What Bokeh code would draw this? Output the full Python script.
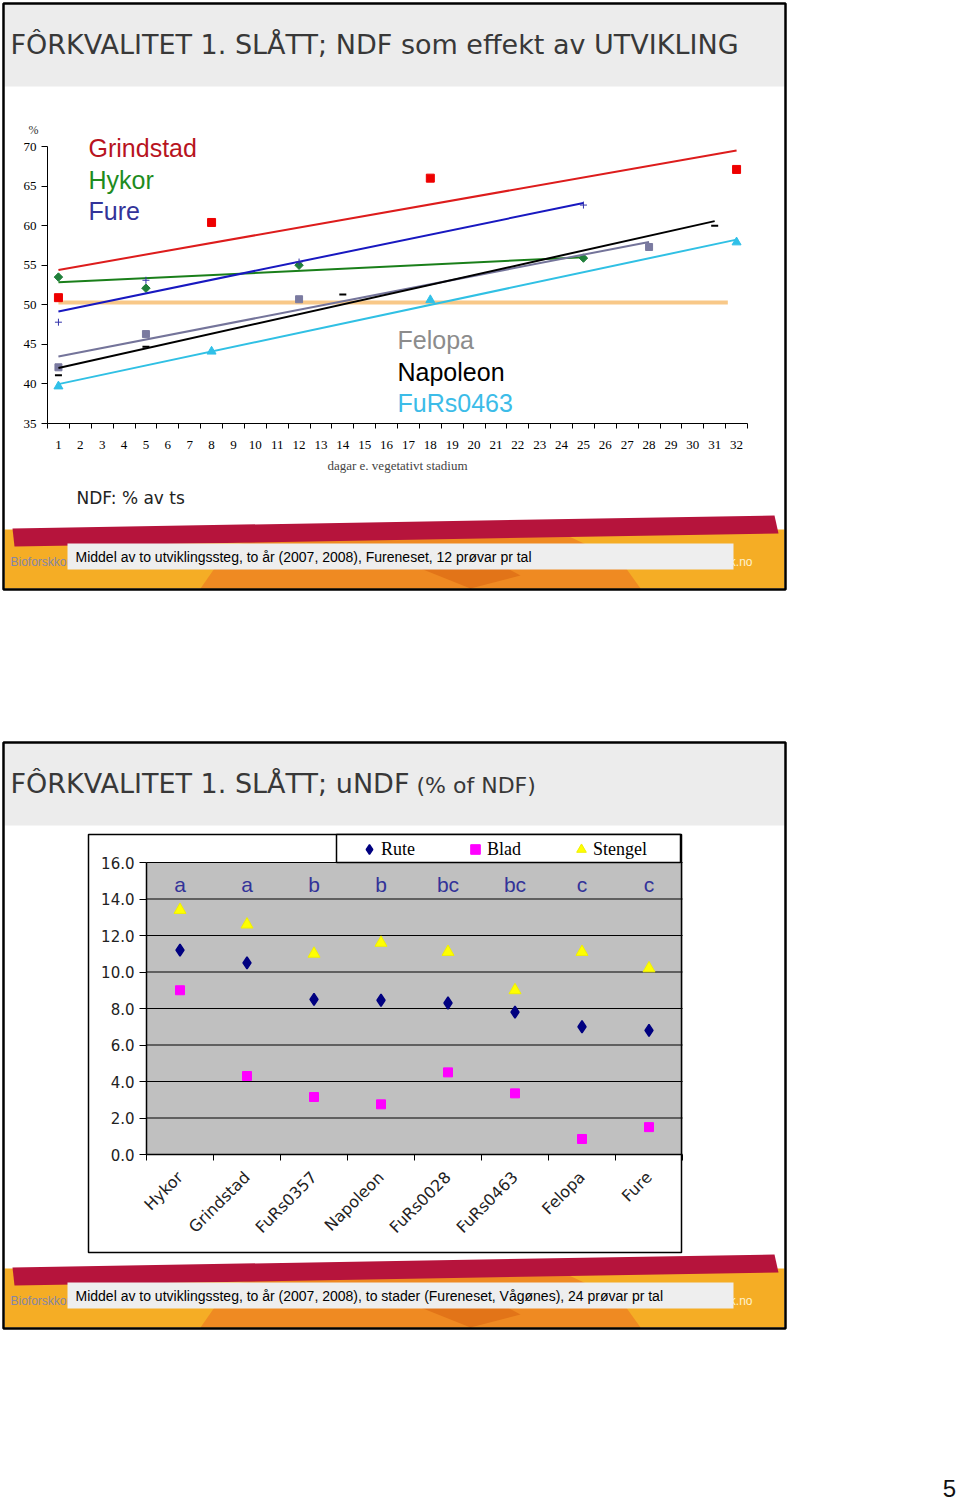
import math
import numpy as np
from bokeh.plotting import figure
from bokeh.models import (FixedTicker, Legend, LegendItem, LinearAxis,
                          NumeralTickFormatter, Range1d)
from bokeh.core.properties import value
from bokeh.embed import file_html
from bokeh.resources import INLINE

# ---------------- data: chart 1 (NDF vs days) ----------------
grindstad_day = [1, 8, 18, 32]
grindstad_ndf = [50.9, 60.4, 66.0, 67.1]
hykor_day = [1, 5, 12, 25]
hykor_ndf = [53.5, 52.1, 55.0, 55.9]
fure_day = [1, 5, 12, 25]
fure_ndf = [47.8, 53.1, 55.4, 62.6]
felopa_day = [1, 5, 12, 28]
felopa_ndf = [42.1, 46.3, 50.7, 57.3]
napoleon_day = [1, 5, 14, 31]
napoleon_ndf = [41.1, 44.7, 51.3, 60.0]
furs0463_day = [1, 8, 18, 32]
furs0463_ndf = [39.7, 44.1, 50.6, 57.9]
ref_day = [1, 31.6]
ref_ndf = [50.3, 50.3]
day_ticks = list(range(1, 33))
y1_ticks = [35, 40, 45, 50, 55, 60, 65, 70]

# ---------------- data: chart 2 (uNDF) ----------------
sorts = ["Hykor", "Grindstad", "FuRs0357", "Napoleon", "FuRs0028", "FuRs0463", "Felopa", "Fure"]
rute = [11.2, 10.5, 8.5, 8.45, 8.3, 7.8, 7.0, 6.8]
blad = [9.0, 4.3, 3.15, 2.75, 4.5, 3.35, 0.85, 1.5]
stengel = [13.4, 12.6, 11.0, 11.6, 11.1, 9.0, 11.1, 10.2]
letters = ["a", "a", "b", "b", "bc", "bc", "c", "c"]
letter_y = 14.8
y2_ticks = [0, 2, 4, 6, 8, 10, 12, 14, 16]

SANS = "Liberation Sans"
SERIF = "Liberation Serif"
TFONT = "DejaVu Sans"
W, H = 960, 1503


def lin_range(v0, px0, v1, px1, total, flip=False):
    """Range whose ends fall on the canvas edges so that v0 lands on px0, v1 on px1."""
    k = (px1 - px0) / (v1 - v0)
    a = v0 - px0 / k
    b = v0 + (total - px0) / k
    return Range1d(b, a) if flip else Range1d(a, b)


p = figure(width=W, height=H, x_range=Range1d(0, W), y_range=Range1d(H, 0),
           x_axis_location=None, y_axis_location=None, min_border=0,
           output_backend="svg", toolbar_location=None, outline_line_color=None,
           background_fill_color="white", border_fill_color="white")
p.grid.visible = False
p.extra_x_ranges = {"c1x": lin_range(0.5, 47, 32.5, 747, W),
                    "c2x": lin_range(-0.5, 146, 7.5, 682, W)}
p.extra_y_ranges = {"c1y": lin_range(70, 146, 35, 423, H, flip=True),
                    "c2y": lin_range(16, 862, 0, 1154, H, flip=True)}
C1 = dict(x_range_name="c1x", y_range_name="c1y")
C2 = dict(x_range_name="c2x", y_range_name="c2y")


def txt(x, y, s, size, color, font=SANS, align="left", baseline="middle", **kw):
    p.text(x=[x], y=[y], text=[s], text_font=value(font), text_font_size=f"{size}px",
           text_color=color, text_align=align, text_baseline=baseline, **kw)


def rect(l, t, r, b, fill=None, line=None, lw=1.0):
    p.quad(left=[l], right=[r], top=[t], bottom=[b],
           fill_color=fill if fill else "white", fill_alpha=1 if fill else 0,
           line_color=line if line else "black", line_alpha=1 if line else 0, line_width=lw)


def slide(dy, titles, foot):
    rect(4, 4 + dy, 784, 86 + dy, fill="#ececec")
    for (x, y, s, size) in titles:
        txt(x, y + dy, s, size, "#383838", font=TFONT)
    rect(4, 529 + dy, 784, 588 + dy, fill="#f5ad25")
    p.patch([230, 330, 470, 560, 620, 640, 200], [v + dy for v in [545, 526, 522, 532, 560, 588, 588]],
            fill_color="#ef8a22", line_alpha=0)
    p.patch([400, 470, 520, 470], [v + dy for v in [560, 548, 575, 588]],
            fill_color="#e27418", line_alpha=0)
    p.patch([12, 774, 778, 14], [v + dy for v in [528, 515, 533, 546]],
            fill_color="#b6143c", line_alpha=0)
    txt(10, 561 + dy, "Bioforskkonferansen", 12, "#8486a8")
    txt(752, 561 + dy, "www.bioforsk.no", 12, "#fff2cc", align="right")
    rect(67, 543 + dy, 733, 569 + dy, fill="#eeeeee")
    txt(75, 556 + dy, foot, 14, "#000000")


# ====================== slide 1 ======================
slide(0, [(10, 44, "FÔRKVALITET 1. SLÅTT; NDF som effekt av UTVIKLING", 27)],
      "Middel av to utviklingssteg, to år (2007, 2008), Fureneset, 12 prøvar pr tal")
txt(33, 129, "%", 12, "#333333", font=SERIF, align="center")
txt(76, 497, "NDF: % av ts", 17, "#222222", font=TFONT)

p.line(ref_day, ref_ndf, line_color="#f8c888", line_width=4, **C1)
series = [
    (grindstad_day, grindstad_ndf, "#dd1c1c", "square", 8, 0, "#ee0000"),
    (hykor_day, hykor_ndf, "#1a7f1a", "square", 6, math.pi / 4, "#1f7f3a"),
    (fure_day, fure_ndf, "#1818c0", "cross", 7, 0, "#3333aa"),
    (felopa_day, felopa_ndf, "#74749a", "square", 7, 0, "#7a7aa0"),
    (napoleon_day, napoleon_ndf, "#000000", "dash", 7, 0, "#000000"),
    (furs0463_day, furs0463_ndf, "#30c0e4", "triangle", 9, 0, "#30c0e8"),
]
for xs, ys, lc, mk, ms, ang, mc in series:
    k, b = np.polyfit(xs, ys, 1)
    x_end = [min(xs), max(xs)]
    p.line(x_end, [k * x + b for x in x_end], line_color=lc, line_width=2, **C1)
    p.scatter(xs, ys, marker=mk, size=ms, angle=ang, fill_color=mc, line_color=mc,
              line_width=2 if mk == "dash" else 1, **C1)

for (X, Y, s, c) in [(88, 147, "Grindstad", "#b8141e"), (88, 179, "Hykor", "#1e8c1e"),
                     (88, 210, "Fure", "#333399"), (397, 339, "Felopa", "#8c8c8c"),
                     (397, 371, "Napoleon", "#000000"), (397, 402, "FuRs0463", "#3cbce8")]:
    txt(X, Y, s, 25, c)

ax1x = LinearAxis(fixed_location=35, bounds=(0.5, 32.5),
                  ticker=FixedTicker(ticks=day_ticks, minor_ticks=[d - 0.5 for d in range(1, 34)]),
                  major_tick_in=0, major_tick_out=0, minor_tick_in=0, minor_tick_out=5,
                  minor_tick_line_color="black", axis_line_color="black",
                  major_label_standoff=12, major_label_text_font=SERIF,
                  major_label_text_font_size="13px", major_label_text_color="black",
                  axis_label="dagar e. vegetativt stadium", axis_label_text_font=SERIF,
                  axis_label_text_font_size="13px", axis_label_text_font_style="normal",
                  axis_label_standoff=6, **C1)
p.add_layout(ax1x, "below")
ax1y = LinearAxis(fixed_location=0.5, bounds=(35, 70), ticker=FixedTicker(ticks=y1_ticks),
                  major_tick_in=0, major_tick_out=6, minor_tick_in=0, minor_tick_out=0,
                  axis_line_color="black", major_label_text_font=SERIF,
                  major_label_text_font_size="13px", major_label_text_color="black", **C1)
p.add_layout(ax1y, "left")

# ====================== slide 2 ======================
DY = 739
slide(DY, [(10, 44, "FÔRKVALITET 1. SLÅTT; uNDF", 27), (416, 46, "(% of NDF)", 22)],
      "Middel av to utviklingssteg, to år (2007, 2008), to stader (Fureneset, Vågønes), 24 prøvar pr tal")

pos = list(range(len(sorts)))
p.quad(left=[-0.5], right=[len(sorts) - 0.5], bottom=[min(y2_ticks)], top=[max(y2_ticks)],
       fill_color="#c0c0c0", line_alpha=0, **C2)
p.segment(x0=[-0.5] * len(y2_ticks[1:]), x1=[len(sorts) - 0.5] * len(y2_ticks[1:]),
          y0=y2_ticks[1:], y1=y2_ticks[1:], line_color="black", line_width=1.2, **C2)
rect(88, 834, 681, 1252, line="black", lw=1.5)
rect(336, 834, 680, 862, fill="white", line="black", lw=1.5)

r_st = p.scatter(pos, stengel, marker="triangle", size=12, fill_color="#ffff00", line_color="#f0f000", **C2)
r_bl = p.scatter(pos, blad, marker="square", size=9, fill_color="#ff00ff", line_color="#ff00ff", **C2)
r_ru = p.scatter(pos, rute, marker="diamond", size=12, fill_color="#000080", line_color="#000080",
                 line_width=1.5, **C2)
p.text(x=pos, y=[letter_y] * len(pos), text=letters, text_font=value(SANS),
       text_font_size="21px", text_color="#333399", text_align="center", text_baseline="middle", **C2)

ax2x = LinearAxis(fixed_location=0, bounds=(-0.5, len(sorts) - 0.5),
                  ticker=FixedTicker(ticks=pos, minor_ticks=[i - 0.5 for i in range(len(sorts) + 1)]),
                  major_label_overrides={i: s for i, s in enumerate(sorts)},
                  major_label_orientation=math.pi / 4,
                  major_tick_in=0, major_tick_out=0, minor_tick_in=0, minor_tick_out=6,
                  minor_tick_line_color="black", axis_line_color="black", axis_line_width=1.5,
                  major_label_standoff=14, major_label_text_font=TFONT,
                  major_label_text_font_size="16px", major_label_text_color="#222222", **C2)
p.add_layout(ax2x, "below")
ax2y = LinearAxis(fixed_location=-0.5, bounds=(0, 16), ticker=FixedTicker(ticks=y2_ticks),
                  formatter=NumeralTickFormatter(format="0.0"),
                  major_tick_in=0, major_tick_out=7, minor_tick_in=0, minor_tick_out=0,
                  axis_line_color="black", axis_line_width=1.5, major_label_text_font=TFONT,
                  major_label_text_font_size="15px", major_label_text_color="#222222", **C2)
p.add_layout(ax2y, "left")

leg = Legend(items=[LegendItem(label="Rute", renderers=[r_ru]),
                    LegendItem(label="Blad", renderers=[r_bl]),
                    LegendItem(label="Stengel", renderers=[r_st])],
             orientation="horizontal", location=(357, H - 861),
             background_fill_alpha=0, border_line_alpha=0, padding=0, margin=0,
             glyph_width=24, glyph_height=24, label_standoff=0, spacing=48, label_width=0,
             label_text_font=SERIF, label_text_font_size="18px", label_text_color="black")
p.add_layout(leg)

# slide borders and page number
rect(3, 3, 785, 589, line="black", lw=2.5)
rect(3, 3 + DY, 785, 589 + DY, line="black", lw=2.5)
txt(949, 1488, "5", 24, "#111111", align="center")

open("out.html", "w").write(file_html(p, INLINE))
